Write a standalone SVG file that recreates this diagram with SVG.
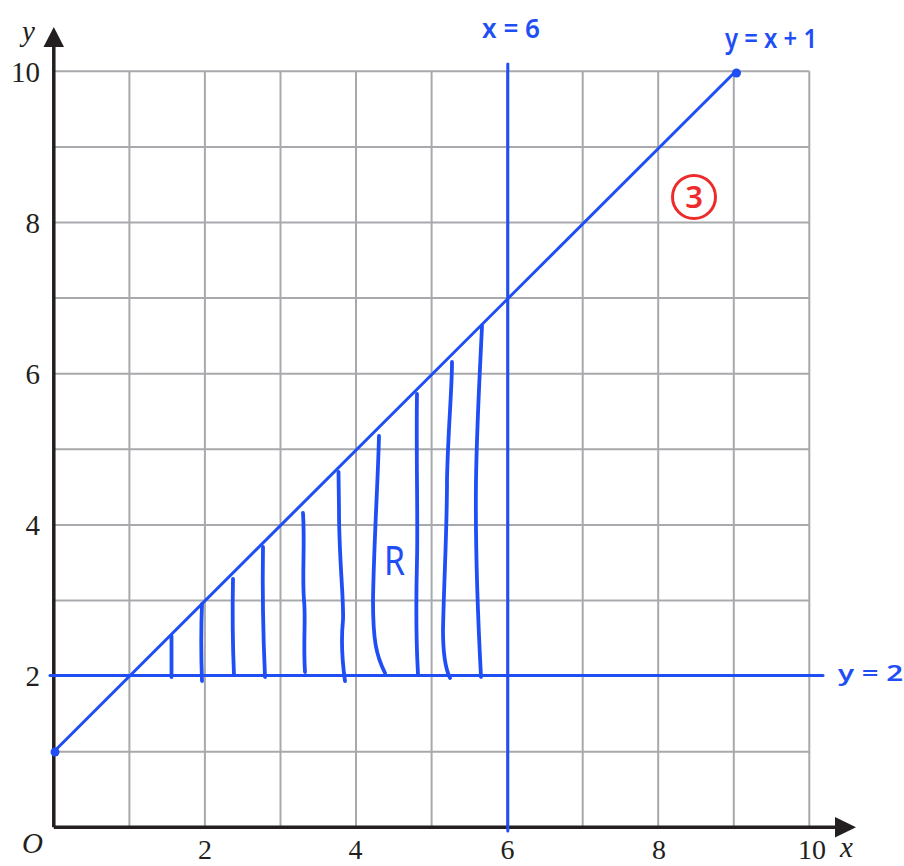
<svg xmlns="http://www.w3.org/2000/svg" width="904" height="866" viewBox="0 0 904 866">
<style>
.grid{stroke:#a7a9ac;stroke-width:2;fill:none}
.axis{stroke:#231f20;stroke-width:3.5;fill:none}
.ah{fill:#231f20}
.num{font-family:"Liberation Serif","Times New Roman",serif;font-size:29px;fill:#231f20}
.bnum{font-family:"Liberation Serif","Times New Roman",serif;font-size:28px;fill:#231f20}
.ital{font-family:"Liberation Serif","Times New Roman",serif;font-style:italic;font-size:29px;fill:#231f20}
.blue{stroke:#1f4ef5;stroke-width:3;fill:none;stroke-linecap:round}
.hatch{stroke:#1f4ef5;stroke-width:3.8;fill:none;stroke-linecap:round;stroke-linejoin:round}
.hand{font-family:"Noto Sans","DejaVu Sans",sans-serif;font-weight:600;fill:#1f4ef5}
.red{stroke:#ee2b2b;stroke-width:3;fill:none}
</style>
<rect width="904" height="866" fill="#ffffff"/>
<g id="grid" class="grid">
<path d="M129.4 71.3V827.3M204.9 71.3V827.3M280.5 71.3V827.3M356 71.3V827.3M431.6 71.3V827.3M507.1 71.3V827.3M582.7 71.3V827.3M658.2 71.3V827.3M733.8 71.3V827.3M809.3 71.3V827.3"/>
<path d="M53.8 751.7H809.3M53.8 676.1H809.3M53.8 600.5H809.3M53.8 524.9H809.3M53.8 449.3H809.3M53.8 373.7H809.3M53.8 298.1H809.3M53.8 222.5H809.3M53.8 146.9H809.3M53.8 71.3H809.3"/>
</g>
<g id="axes">
<path class="axis" d="M53.8 827.3V44M53.8 827.3H837"/>
<polygon class="ah" points="53.8,27 43.5,47 64,47"/>
<polygon class="ah" points="856,827.3 835,817 835,837.5"/>
</g>
<g id="tick-labels">
<text class="num" x="40" y="82" text-anchor="end">10</text>
<text class="num" x="40" y="233" text-anchor="end">8</text>
<text class="num" x="40" y="384" text-anchor="end">6</text>
<text class="num" x="40" y="535" text-anchor="end">4</text>
<text class="num" x="40" y="686" text-anchor="end">2</text>
<text class="bnum" x="205" y="859" text-anchor="middle">2</text>
<text class="bnum" x="355.5" y="859" text-anchor="middle">4</text>
<text class="bnum" x="507.5" y="859" text-anchor="middle">6</text>
<text class="bnum" x="659" y="859" text-anchor="middle">8</text>
<text class="bnum" x="812" y="859" text-anchor="middle">10</text>
<text class="ital" x="22" y="853">O</text>
<text class="ital" x="840" y="857">x</text>
<text class="ital" x="22" y="41">y</text>
</g>
<g id="connectors">
<path id="line-y-x-plus-1" class="blue" d="M53.8 751.7L735 72"/>
<circle cx="55" cy="752" r="4.5" fill="#1f4ef5"/>
<circle cx="736.5" cy="73" r="4.5" fill="#1f4ef5"/>
<path id="line-x-6" class="blue" d="M507.8 64V831"/>
<path id="line-y-2" class="blue" d="M50 675.5H823"/>
</g>
<g id="hatching" class="hatch">
<path d="M171.5 677V636"/>
<path d="M202 681Q200.5 640 202 604"/>
<path d="M234 675Q232 630 233 579"/>
<path d="M265 677Q262 610 263 547"/>
<path d="M305 672C303 640 306 620 304 600C302 575 305 545 303 513"/>
<path d="M345 681C342 660 341 640 343 620C344 600 339 560 339 510L338.5 472"/>
<path d="M385 673C376 655 373 640 373 600C374 540 378 480 379 436"/>
<path d="M418 674C416 640 416 600 417 560C418 520 416 450 417 394"/>
<path d="M450 678C446 670 443 655 443 630C444 580 447 530 447 480C448 430 452 390 452 362"/>
<path d="M481 677C478 620 475 560 476 480C477 420 480 370 482 326"/>
</g>
<g id="label-x6"><text class="hand" x="482" y="38" font-size="27" textLength="58" lengthAdjust="spacingAndGlyphs">x = 6</text></g>
<g id="label-yx1"><text class="hand" x="725" y="48" font-size="27" textLength="92" lengthAdjust="spacingAndGlyphs">y = x + 1</text></g>
<g id="label-y2"><text class="hand" x="838" y="681" font-size="22" textLength="65" lengthAdjust="spacingAndGlyphs">y = 2</text></g>
<g id="label-R"><text class="hand" x="384" y="575" font-size="40" style="font-weight:400" textLength="21" lengthAdjust="spacingAndGlyphs">R</text></g>
<g id="mark-3">
<circle class="red" cx="694" cy="197" r="21.5"/>
<text x="694" y="207.5" text-anchor="middle" font-family="Noto Sans, DejaVu Sans, sans-serif" font-size="31" font-weight="600" fill="#ee2b2b">3</text>
</g>
</svg>
